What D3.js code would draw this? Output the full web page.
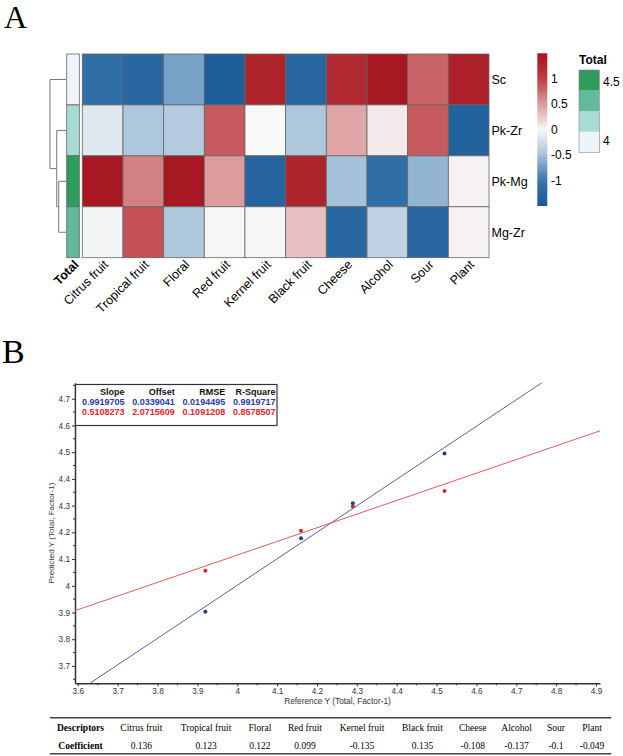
<!DOCTYPE html>
<html>
<head>
<meta charset="utf-8">
<script src="https://cdn.jsdelivr.net/npm/d3@7"></script>
<style>
  body { margin: 0; background: #fff; }
  svg { display: block; }
</style>
</head>
<body>
<script>
const width = 623;
const height = 756;

// ---- panel A data ----
const descriptors = ["Citrus fruit", "Tropical fruit", "Floral", "Red fruit", "Kernel fruit",
  "Black fruit", "Cheese", "Alcohol", "Sour", "Plant"];
const samples = ["Sc", "Pk-Zr", "Pk-Mg", "Mg-Zr"];
const rowSc = [-1.1, -1.25, -0.7, -1.45, 1.3, -1.25, 1.25, 1.45, 0.8, 1.35];
const rowPkZr = [-0.15, -0.45, -0.42, 0.85, 0.0, -0.45, 0.45, 0.08, 0.85, -1.35];
const rowPkMg = [1.45, 0.65, 1.45, 0.5, -1.3, 1.3, -0.5, -1.1, -0.58, 0.03];
const rowMgZr = [-0.03, 0.9, -0.45, -0.02, -0.02, 0.3, -1.25, -0.35, -1.25, 0.03];
const totalValues = [3.92, 4.16, 4.52, 4.29];
const colorTicks = [-1, -0.5, 0, 0.5, 1];
const totalTicks = [4, 4.5];
// dendrogram merge heights
const dendro = { h: 5.7, children: [
  { name: "Sc" },
  { h: 3.3, children: [
    { name: "Pk-Zr" },
    { h: 2.6, children: [{ name: "Pk-Mg" }, { name: "Mg-Zr" }] }
  ] }
] };

// ---- panel B data ----
const refY = [3.92, 4.16, 4.29, 4.52];
const predCal = [3.903, 4.178, 4.309, 4.495];
const predVal = [4.056, 4.206, 4.297, 4.355];
const statHeaders = ["Slope", "Offset", "RMSE", "R-Square"];
const statsCal = ["0.9919705", "0.0339041", "0.0194495", "0.9919717"];
const statsVal = ["0.5108273", "2.0715609", "0.1091208", "0.8578507"];
const xTicks = [3.6, 3.7, 3.8, 3.9, 4, 4.1, 4.2, 4.3, 4.4, 4.5, 4.6, 4.7, 4.8, 4.9];
const yTicks = [3.7, 3.8, 3.9, 4, 4.1, 4.2, 4.3, 4.4, 4.5, 4.6, 4.7];

// ---- table data ----
const coefficients = ["0.136", "0.123", "0.122", "0.099", "-0.135", "0.135", "-0.108", "-0.137", "-0.1", "-0.049"];

const sans = "'Liberation Sans', Arial, sans-serif";
const serif = "'Liberation Serif', 'Times New Roman', serif";

const svg = d3.select("body").append("svg")
  .attr("width", width)
  .attr("height", height)
  .style("font-family", sans);

// panel letters
svg.append("text").attr("x", 4).attr("y", 28).text("A")
  .style("font-family", serif).style("font-size", "32px");
svg.append("text").attr("x", 2).attr("y", 363).text("B")
  .style("font-family", serif).style("font-size", "34px");

// ================= heatmap =================
const heatRows = [rowSc, rowPkZr, rowPkMg, rowMgZr];
const cells = [];
samples.forEach((s, i) => descriptors.forEach((d, j) => cells.push({ s, d, v: heatRows[i][j] })));

const x = d3.scaleBand().domain(descriptors).range([82.3, 489]);
const y = d3.scaleBand().domain(samples).range([54, 257.7]);

const heatColor = d3.scaleLinear()
  .domain([-1.5, -1, -0.5, 0, 0.5, 1, 1.5])
  .range(["#1a5a98", "#3673aa", "#a6c1da", "#f8f8f8", "#dc9c9e", "#bc3d43", "#a5141e"])
  .clamp(true);

const heat = svg.append("g");
heat.selectAll("rect")
  .data(cells)
  .join("rect")
  .attr("x", d => x(d.d))
  .attr("y", d => y(d.s))
  .attr("width", x.bandwidth())
  .attr("height", y.bandwidth())
  .attr("fill", d => heatColor(d.v))
  .attr("stroke", "#666")
  .attr("stroke-width", 0.8);

// row labels
heat.selectAll(".rowlab")
  .data(samples)
  .join("text")
  .attr("x", 491.5)
  .attr("y", d => y(d) + y.bandwidth() / 2)
  .attr("dy", "0.35em")
  .style("font-size", "12.5px")
  .text(d => d);

// column labels
heat.selectAll(".collab")
  .data(descriptors)
  .join("text")
  .attr("transform", d => `translate(${x(d) + x.bandwidth() / 2},259) rotate(-45)`)
  .attr("text-anchor", "end")
  .attr("dy", "0.72em")
  .style("font-size", "12.5px")
  .text(d => d);

// Total annotation column
const totalColor = d3.scaleQuantize()
  .domain([3.9, 4.6])
  .range(["#edf3f8", "#a9dbd5", "#62b99b", "#2f9b5d"]);
heat.selectAll(".annot")
  .data(samples)
  .join("rect")
  .attr("x", 66.7)
  .attr("y", d => y(d))
  .attr("width", 12.6)
  .attr("height", y.bandwidth())
  .attr("fill", (d, i) => totalColor(totalValues[i]))
  .attr("stroke", "#666")
  .attr("stroke-width", 0.8);
heat.append("text")
  .attr("transform", `translate(${66.7 + 6.3},259) rotate(-45)`)
  .attr("text-anchor", "end")
  .attr("dy", "0.72em")
  .style("font-size", "12.5px")
  .style("font-weight", "bold")
  .text("Total");

// dendrogram
const root = d3.hierarchy(dendro);
const hx = d3.scaleLinear().domain([0, dendro.h]).range([66, 50]);
root.eachAfter(n => {
  if (!n.children) {
    n.py = y(n.data.name) + y.bandwidth() / 2;
    n.px = hx(0);
  } else {
    n.py = d3.mean(n.children, c => c.py);
    n.px = hx(n.data.h);
  }
});
const dg = svg.append("g").attr("fill", "none").attr("stroke", "#777").attr("stroke-width", 1);
root.descendants().filter(n => n.children).forEach(n => {
  const [a, b] = n.children;
  dg.append("path")
    .attr("d", `M${a.px},${a.py}H${n.px}V${b.py}H${b.px}`);
});

// color bar
const cb = d3.scaleLinear().domain([-1.5, 1.5]).range([206, 53.3]);
const grad = svg.append("defs").append("linearGradient")
  .attr("id", "cbar").attr("x1", 0).attr("y1", 1).attr("x2", 0).attr("y2", 0);
grad.selectAll("stop")
  .data(d3.range(0, 1.0001, 0.05))
  .join("stop")
  .attr("offset", t => t)
  .attr("stop-color", t => heatColor(-1.5 + 3 * t));
svg.append("rect")
  .attr("x", 537.3).attr("y", cb(1.5))
  .attr("width", 10).attr("height", cb(-1.5) - cb(1.5))
  .attr("fill", "url(#cbar)");
svg.selectAll(".cbt")
  .data(colorTicks)
  .join("text")
  .attr("x", 551)
  .attr("y", d => cb(d))
  .attr("dy", "0.35em")
  .style("font-size", "12px")
  .text(d => d);

// Total legend
const tl = d3.scaleLinear().domain([3.9, 4.6]).range([152.3, 70]);
svg.append("text").attr("x", 579).attr("y", 64)
  .style("font-size", "12px").style("font-weight", "bold").text("Total");
const bins = totalColor.range().map(c => totalColor.invertExtent(c));
svg.selectAll(".tbox")
  .data(bins)
  .join("rect")
  .attr("x", 579)
  .attr("y", d => tl(d[1]))
  .attr("width", 20.3)
  .attr("height", d => tl(d[0]) - tl(d[1]))
  .attr("fill", d => totalColor((d[0] + d[1]) / 2));
svg.append("rect").attr("x", 579).attr("y", tl(4.6)).attr("width", 20.3)
  .attr("height", tl(3.9) - tl(4.6)).attr("fill", "none").attr("stroke", "#888").attr("stroke-width", 0.6);
svg.selectAll(".tt")
  .data(totalTicks)
  .join("text")
  .attr("x", 603)
  .attr("y", d => tl(d))
  .attr("dy", "0.35em")
  .style("font-size", "12px")
  .text(d => d);

// ================= scatter =================
const sx = d3.scaleLinear().domain([3.593, 4.91]).range([75, 600]);
const sy = d3.scaleLinear().domain([3.635, 4.76]).range([683.3, 382.7]);
const fmt = d => String(Math.round(d * 10) / 10);

const minorX = d3.range(3.65, 4.91, 0.1);
const minorY = d3.range(3.65, 4.76, 0.1);

const xa = svg.append("g").attr("transform", "translate(0,683.3)")
  .call(d3.axisBottom(sx).tickValues(xTicks).tickFormat(fmt).tickSize(3).tickSizeOuter(0).tickPadding(2));
xa.selectAll(".minor").data(minorX).join("line").attr("class", "minor")
  .attr("x1", d => sx(d)).attr("x2", d => sx(d)).attr("y1", 0).attr("y2", 2);
const ya = svg.append("g").attr("transform", "translate(75,0)")
  .call(d3.axisLeft(sy).tickValues(yTicks).tickFormat(fmt).tickSize(3).tickSizeOuter(0).tickPadding(2));
ya.selectAll(".minor").data(minorY).join("line").attr("class", "minor")
  .attr("y1", d => sy(d)).attr("y2", d => sy(d)).attr("x1", 0).attr("x2", -2);
[xa, ya].forEach(a => {
  a.select(".domain").attr("stroke", "#333").attr("stroke-width", 1.5);
  a.selectAll("line").attr("stroke", "#333");
  a.selectAll("text").style("font-family", sans).style("font-size", "8.2px").attr("fill", "#333");
});

svg.append("text")
  .attr("x", 337.5).attr("y", 704)
  .attr("text-anchor", "middle")
  .style("font-size", "8.3px").attr("fill", "#333")
  .text("Reference Y (Total, Factor-1)");
svg.append("text")
  .attr("transform", "translate(54,533) rotate(-90)")
  .attr("text-anchor", "middle")
  .style("font-size", "8.1px").attr("fill", "#333")
  .text("Predicted Y (Total, Factor-1)");

// regression lines clipped to plot area
svg.append("clipPath").attr("id", "plotclip").append("rect")
  .attr("x", 75).attr("y", sy(4.76)).attr("width", 525).attr("height", sy(3.635) - sy(4.76));
const fits = [
  { slope: +statsCal[0], offset: +statsCal[1], color: "#5b5fb0" },
  { slope: +statsVal[0], offset: +statsVal[1], color: "#e25a5c" }
];
const lg = svg.append("g").attr("clip-path", "url(#plotclip)");
fits.forEach(f => {
  const xs = sx.domain();
  lg.append("line")
    .attr("x1", sx(xs[0])).attr("y1", sy(f.offset + f.slope * xs[0]))
    .attr("x2", sx(xs[1])).attr("y2", sy(f.offset + f.slope * xs[1]))
    .attr("stroke", f.color).attr("stroke-width", 1);
});

svg.append("g").selectAll("circle")
  .data(refY.map((r, i) => ({ r, p: predVal[i] })))
  .join("circle")
  .attr("cx", d => sx(d.r)).attr("cy", d => sy(d.p)).attr("r", 2)
  .attr("fill", "#d62630");
svg.append("g").selectAll("circle")
  .data(refY.map((r, i) => ({ r, p: predCal[i] })))
  .join("circle")
  .attr("cx", d => sx(d.r)).attr("cy", d => sy(d.p)).attr("r", 2)
  .attr("fill", "#223d8e");

// stats box
const sb = svg.append("g");
sb.append("rect")
  .attr("x", 75.5).attr("y", 384.5).attr("width", 201.5).attr("height", 41)
  .attr("fill", "#fff").attr("stroke", "#333").attr("stroke-width", 1.2);
const colRight = d3.scalePoint().domain(statHeaders).range([124.5, 275.5]);
const statRows = [
  { vals: statHeaders, color: "#111" },
  { vals: statsCal, color: "#2a3aa6" },
  { vals: statsVal, color: "#e3242c" }
];
const rowY = d3.scalePoint().domain([0, 1, 2]).range([392, 412]);
statRows.forEach((r, i) => {
  sb.selectAll(null)
    .data(r.vals)
    .join("text")
    .attr("x", (d, j) => colRight(statHeaders[j]))
    .attr("y", rowY(i))
    .attr("dy", "0.35em")
    .attr("text-anchor", "end")
    .attr("fill", r.color)
    .style("font-size", "9px")
    .style("font-weight", "bold")
    .text(d => d);
});

// ================= table =================
const tbl = svg.append("g").style("font-family", serif).style("font-size", "9.5px");
const tLeft = 50, tRight = 611.3;
const headers = ["Descriptors"].concat(descriptors);
const values = ["Coefficient"].concat(coefficients);
const measure = tbl.append("text").style("font-weight", "bold");
const colW = headers.map((h, i) => {
  measure.text(h);
  const a = measure.node().getComputedTextLength();
  measure.text(values[i]);
  const b = measure.node().getComputedTextLength();
  return Math.max(a, b);
});
measure.remove();
const pad = (tRight - tLeft - d3.sum(colW)) / headers.length;
let acc = tLeft;
const colX = colW.map(w => { const c = acc + (w + pad) / 2; acc += w + pad; return c; });

tbl.selectAll(".th")
  .data(headers)
  .join("text")
  .attr("x", (d, i) => colX[i]).attr("y", 727.5).attr("dy", "0.35em")
  .attr("text-anchor", "middle")
  .style("font-weight", (d, i) => i === 0 ? "bold" : "normal")
  .text(d => d);
tbl.selectAll(".tv")
  .data(values)
  .join("text")
  .attr("x", (d, i) => colX[i]).attr("y", 745.5).attr("dy", "0.35em")
  .attr("text-anchor", "middle")
  .style("font-weight", (d, i) => i === 0 ? "bold" : "normal")
  .text(d => d);
[717.7, 753.7].forEach(yy => {
  tbl.append("line").attr("x1", tLeft).attr("x2", tRight).attr("y1", yy).attr("y2", yy)
    .attr("stroke", "#444").attr("stroke-width", 1.6);
});
</script>
</body>
</html>
